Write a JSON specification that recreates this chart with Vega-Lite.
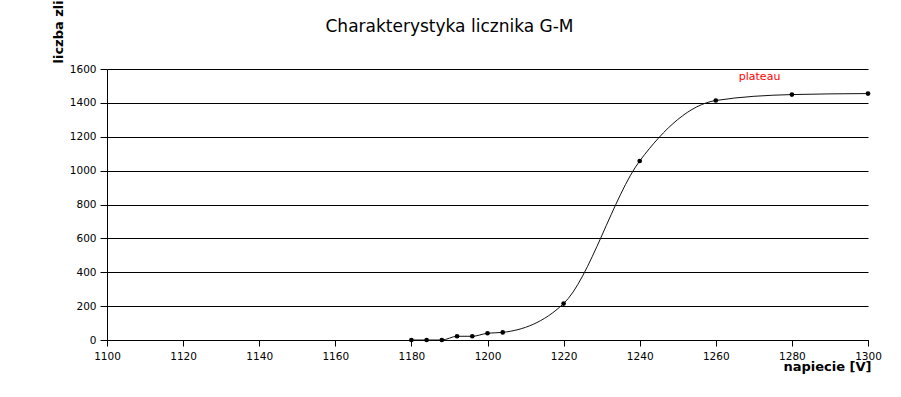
{
  "$schema": "https://vega.github.io/schema/vega-lite/v6.json",
  "width": 761,
  "height": 271,
  "autosize": {"type": "none"},
  "padding": {"left": 107, "top": 69, "right": 33, "bottom": 57},
  "background": "white",
  "config": {
    "view": {"stroke": null},
    "font": "DejaVu Sans",
    "axis": {
      "domainColor": "black",
      "tickColor": "black",
      "labelColor": "black",
      "labelFont": "DejaVu Sans",
      "labelFontSize": 10.5,
      "labelOverlap": false,
      "labelFlush": false,
      "titleFont": "DejaVu Sans",
      "titleFontSize": 13,
      "titleFontWeight": "bold",
      "titleColor": "black",
      "gridColor": "black",
      "gridOpacity": 1,
      "tickSize": 6
    }
  },
  "title": {
    "text": "Charakterystyka licznika G-M",
    "font": "DejaVu Sans",
    "fontSize": 17,
    "fontWeight": "normal",
    "color": "black",
    "anchor": "middle",
    "baseline": "alphabetic",
    "offset": -49,
    "dx": -38
  },
  "encoding": {
    "x": {
      "field": "napiecie",
      "type": "quantitative",
      "scale": {"domain": [1100, 1300], "nice": false, "zero": false},
      "axis": {
        "values": [1100, 1120, 1140, 1160, 1180, 1200, 1220, 1240, 1260, 1280, 1300],
        "grid": false,
        "format": "d",
        "labelPadding": 5,
        "title": "napiecie [V]",
        "titleAnchor": "end",
        "titleAlign": "right",
        "titleBaseline": "alphabetic",
        "titleX": 764,
        "titleY": 30
      }
    },
    "y": {
      "field": "zliczenia",
      "type": "quantitative",
      "scale": {"domain": [0, 1600], "nice": false},
      "axis": {
        "values": [0, 200, 400, 600, 800, 1000, 1200, 1400, 1600],
        "grid": true,
        "format": "d",
        "tickSize": 7,
        "labelPadding": 4,
        "title": "liczba zli",
        "titleAngle": -90,
        "titleAlign": "left",
        "titleBaseline": "alphabetic",
        "titleAnchor": "start",
        "titleX": -45,
        "titleY": -6
      }
    }
  },
  "layer": [
    {
      "data": {
        "values": [
          {"napiecie": 1180, "zliczenia": 0},
          {"napiecie": 1184, "zliczenia": 0},
          {"napiecie": 1188, "zliczenia": 0},
          {"napiecie": 1192, "zliczenia": 22},
          {"napiecie": 1196, "zliczenia": 22},
          {"napiecie": 1200, "zliczenia": 40},
          {"napiecie": 1204, "zliczenia": 45},
          {"napiecie": 1220, "zliczenia": 215},
          {"napiecie": 1240, "zliczenia": 1057},
          {"napiecie": 1260, "zliczenia": 1414},
          {"napiecie": 1280, "zliczenia": 1449},
          {"napiecie": 1300, "zliczenia": 1455}
        ]
      },
      "layer": [
        {"mark": {"type": "line", "interpolate": "monotone", "color": "#111111", "strokeWidth": 1}},
        {"mark": {"type": "circle", "color": "black", "opacity": 1, "size": 22}}
      ]
    },
    {
      "data": {"values": [{"napiecie": 1271.5, "zliczenia": 1535, "label": "plateau"}]},
      "mark": {"type": "text", "color": "red", "fontSize": 11, "font": "DejaVu Sans", "align": "center", "baseline": "alphabetic"},
      "encoding": {
        "text": {"field": "label"}
      }
    }
  ]
}
